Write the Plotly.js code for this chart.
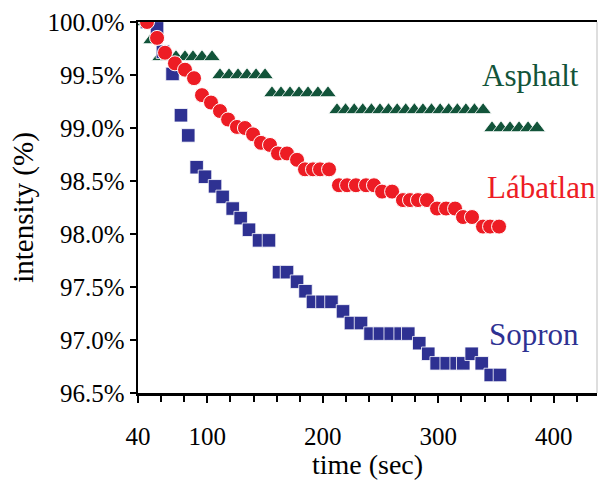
<!DOCTYPE html>
<html>
<head>
<meta charset="utf-8">
<script src="https://cdn.plot.ly/plotly-3.0.1.min.js"></script>
<style>html,body{margin:0;padding:0;background:#fff;}#chart{width:601px;height:484px;}</style>
</head>
<body>
<div id="chart"></div>
<script>
// Asphalt (green triangles)
const asphaltTime = [46.1, 51.3, 59.0, 66.0, 72.9, 80.7, 87.6, 95.4, 104.1,
  111.0, 118.8, 126.6, 134.4, 142.2, 150.0,
  156.0, 163.8, 171.6, 179.4, 187.2, 195.8, 204.5,
  212.3, 219.7, 227.2, 234.6, 242.1, 249.5, 256.9, 264.4, 271.8, 279.3, 286.7, 294.1, 301.6, 309.0, 316.5, 323.9, 331.3, 338.8,
  346.5, 354.3, 362.1, 369.9, 377.7, 385.5];
const asphaltIntensity = [100.0, 99.83, 99.67, 99.67, 99.67, 99.67, 99.67, 99.67, 99.67,
  99.5, 99.5, 99.5, 99.5, 99.5, 99.5,
  99.33, 99.33, 99.33, 99.33, 99.33, 99.33, 99.33,
  99.17, 99.17, 99.17, 99.17, 99.17, 99.17, 99.17, 99.17, 99.17, 99.17, 99.17, 99.17, 99.17, 99.17, 99.17, 99.17, 99.17, 99.17,
  99.0, 99.0, 99.0, 99.0, 99.0, 99.0];

// Sopron (blue squares)
const sopronTime = [47.8, 56.5, 61.6, 69.9, 77.2, 83.5, 90.8, 98.0, 106.7, 113.3,
  122.0, 128.9, 136.1, 144.8, 153.4, 162.1, 169.0, 177.7, 185.0, 191.5,
  199.7, 207.5, 217.5, 224.4, 233.1, 241.3, 249.5, 258.8, 267.4, 274.0,
  283.5, 291.3, 298.6, 307.3, 315.9, 321.6, 328.9, 337.6, 345.4, 353.4];
const sopronIntensity = [100.0, 99.94, 99.72, 99.51, 99.12, 98.93, 98.63, 98.54, 98.45, 98.35,
  98.24, 98.15, 98.04, 97.94, 97.94, 97.64, 97.64, 97.55, 97.46, 97.36,
  97.36, 97.36, 97.27, 97.16, 97.16, 97.06, 97.06, 97.06, 97.06, 97.06,
  96.97, 96.87, 96.78, 96.78, 96.78, 96.78, 96.87, 96.78, 96.67, 96.67];

// Lábatlan (red circles)
const labatlanTime = [47.8, 56.5, 63.4, 72.0, 80.7, 88.5, 95.4, 103.2, 111.0, 118.0,
  125.7, 132.6, 139.6, 146.5, 154.3, 161.2, 169.0, 177.7, 184.6, 191.5,
  197.6, 205.4, 214.0, 221.0, 228.7, 237.4, 244.3, 251.3, 260.0, 269.4,
  275.5, 282.4, 290.2, 298.9, 306.7, 314.5, 321.4, 329.2, 338.7, 344.8, 352.6];
const labatlanIntensity = [100.0, 99.85, 99.71, 99.61, 99.55, 99.47, 99.31, 99.24, 99.16, 99.08,
  99.01, 99.0, 98.94, 98.86, 98.84, 98.76, 98.76, 98.70, 98.61, 98.61,
  98.61, 98.61, 98.46, 98.46, 98.46, 98.46, 98.46, 98.40, 98.40, 98.32,
  98.32, 98.32, 98.32, 98.24, 98.24, 98.24, 98.16, 98.16, 98.07, 98.07, 98.07];

const xTickVals = [40, 100, 200, 300, 400];
const xTickText = ['40', '100', '200', '300', '400'];
const seriesNames = ['Asphalt', 'Sopron', 'Lábatlan'];

const GREEN = '#12543a', BLUE = '#2e3192', RED = '#ed1c24';
const FONT = 'Liberation Serif, Times New Roman, serif';

const traces = [
  {x: asphaltTime, y: asphaltIntensity, name: seriesNames[0], type: 'scatter', mode: 'markers',
   marker: {symbol: 'triangle-up', size: 14.5, color: GREEN, line: {color: '#fff', width: 0.8}}},
  {x: sopronTime, y: sopronIntensity, name: seriesNames[1], type: 'scatter', mode: 'markers',
   marker: {symbol: 'square', size: 13.5, color: BLUE, line: {color: '#fff', width: 0.8}}},
  {x: labatlanTime, y: labatlanIntensity, name: seriesNames[2], type: 'scatter', mode: 'markers',
   marker: {symbol: 'circle', size: 15, color: RED, line: {color: '#fff', width: 1}}}
];

const layout = {
  width: 601, height: 484,
  margin: {l: 138, r: 4, t: 22, b: 91, pad: 0},
  paper_bgcolor: '#fff', plot_bgcolor: '#fff',
  showlegend: false,
  font: {family: FONT, color: '#000', size: 24},
  xaxis: {
    range: [40, 437.4], showgrid: false, zeroline: false,
    tickmode: 'array', tickvals: xTickVals, ticktext: xTickText,
    ticks: 'outside', ticklen: 7, tickwidth: 2, tickcolor: '#000',
    ticklabelstandoff: 12,
    minor: {tickmode: 'linear', tick0: 0, dtick: 20, ticks: 'outside', ticklen: 6, tickwidth: 2, tickcolor: '#000'},
    showline: true, linecolor: '#000', linewidth: 2.5, mirror: true,
    tickfont: {family: FONT, size: 25, color: '#000'},
    title: {text: 'time (sec)', font: {family: FONT, size: 28, color: '#000'}, standoff: 4},
    automargin: false
  },
  xaxis2: {
    range: [40, 437.4], overlaying: 'x', anchor: 'y', side: 'bottom',
    showgrid: false, zeroline: false, showline: false,
    tickmode: 'array', tickvals: [100, 200, 300, 400], showticklabels: false,
    ticks: 'inside', ticklen: 7, tickwidth: 2, tickcolor: '#000'
  },
  yaxis: {
    range: [96.5, 100.0], dtick: 0.5, tick0: 96.5, showgrid: false, zeroline: false,
    tickformat: '.1f', ticksuffix: '%',
    ticks: 'outside', ticklen: 6, tickwidth: 2, tickcolor: '#000',
    showline: true, linecolor: '#000', linewidth: 2.5, mirror: false,
    tickfont: {family: FONT, size: 25, color: '#000'},
    title: {text: 'intensity (%)', font: {family: FONT, size: 29, color: '#000'}, standoff: 6},
    automargin: false
  },
  shapes: [
    {type: 'line', xref: 'paper', yref: 'paper', x0: 1, x1: 1, y0: 0, y1: 1,
     line: {color: '#bdbdbd', width: 1}}
  ],
  annotations: [
    {text: seriesNames[0], x: 0.856, y: 0.857, xref: 'paper', yref: 'paper', xanchor: 'center', yanchor: 'middle', showarrow: false,
     font: {family: FONT, size: 31, color: GREEN}},
    {text: seriesNames[2], x: 0.878, y: 0.553, xref: 'paper', yref: 'paper', xanchor: 'center', yanchor: 'middle', showarrow: false,
     font: {family: FONT, size: 31, color: RED}},
    {text: seriesNames[1], x: 0.863, y: 0.159, xref: 'paper', yref: 'paper', xanchor: 'center', yanchor: 'middle', showarrow: false,
     font: {family: FONT, size: 31, color: BLUE}}
  ]
};

Plotly.newPlot('chart', traces, layout, {staticPlot: true, displayModeBar: false});
</script>
</body>
</html>
